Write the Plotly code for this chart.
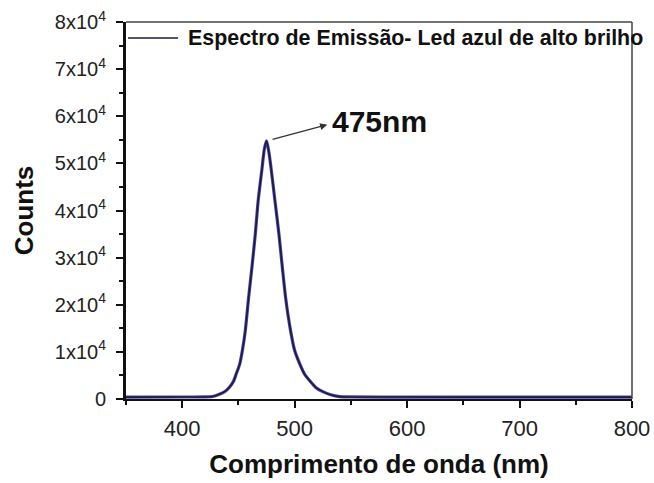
import plotly.graph_objects as go

# Emission spectrum of a high-brightness blue LED
wavelength_nm = [350, 400, 420, 427, 433, 438, 442, 445.5, 448, 451, 453.5, 456,
                 459, 462, 465, 467.5, 471, 473, 475, 477, 479, 482.5, 486, 489,
                 492, 496.5, 500, 505, 509, 514, 519, 525, 532, 540, 550, 600,
                 700, 800]
counts = [400, 420, 430, 520, 1000, 1600, 2500, 3700, 5300, 7300, 10300, 14300,
          21400, 28000, 35000, 42000, 49000, 53000, 54800, 52500, 49000, 42000,
          35000, 28000, 21400, 14300, 10300, 7200, 5200, 3700, 2400, 1560, 900,
          500, 430, 410, 400, 400]

x_ticks = [400, 500, 600, 700, 800]
y_ticks = [0, 10000, 20000, 30000, 40000, 50000, 60000, 70000, 80000]
y_tick_labels = ["0"] + [f"{k}x10<sup>4</sup>" for k in range(1, 9)]

peak_nm = 475
peak_label = "475nm"
legend_label = "Espectro de Emissão- Led azul de alto brilho"

FONT = "Liberation Sans, Arial, sans-serif"

fig = go.Figure()
# blue halo under the dark trace
fig.add_trace(go.Scatter(x=wavelength_nm, y=counts, mode="lines",
                         line=dict(color="#4a44b2", width=3.2, shape="spline", smoothing=0.6),
                         hoverinfo="skip", showlegend=False))
fig.add_trace(go.Scatter(x=wavelength_nm, y=counts, mode="lines", name=legend_label,
                         line=dict(color="#1c1c38", width=1.6, shape="spline", smoothing=0.6),
                         showlegend=False))

peak_counts = max(counts)

# arrow from the peak towards its label
fig.add_annotation(x=529, y=58200, ax=peak_nm + 4, ay=peak_counts + 200,
                   xref="x", yref="y", axref="x", ayref="y", text="",
                   showarrow=True, arrowhead=2, arrowsize=1.1, arrowwidth=1.3,
                   arrowcolor="#333333")
fig.add_annotation(x=531, y=58800, xref="x", yref="y", text=f"<b>{peak_label}</b>",
                   showarrow=False, xanchor="left", yanchor="middle",
                   font=dict(family=FONT, size=30, color="#111111"))

# legend entry drawn by hand: line sample + label
fig.add_shape(type="line", xref="paper", yref="paper", x0=0.004, x1=0.103,
              y0=0.9576, y1=0.9576, line=dict(color="#1c1c38", width=1.6))
fig.add_annotation(x=0.118, y=0.9576, xref="paper", yref="paper",
                   text=f"<b>{legend_label}</b>", showarrow=False,
                   xanchor="left", yanchor="middle",
                   font=dict(family=FONT, size=21.4, color="#111111"))

# thin top and right frame lines
fig.add_shape(type="line", xref="paper", yref="paper", x0=0, x1=1, y0=1, y1=1,
              line=dict(color="#444444", width=1.5))
fig.add_shape(type="line", xref="paper", yref="paper", x0=1, x1=1, y0=0, y1=1,
              line=dict(color="#444444", width=1.5))

fig.update_layout(
    width=654, height=483,
    margin=dict(l=126, r=22, t=22, b=84),
    paper_bgcolor="white", plot_bgcolor="white",
    font=dict(family=FONT, color="#111111"),
)
fig.update_xaxes(
    range=[350, 800], tickvals=x_ticks, ticktext=[str(v) for v in x_ticks],
    automargin=False, ticklabeloverflow="allow",
    showgrid=False, zeroline=False, showline=True, linecolor="#111111", linewidth=2,
    ticks="outside", ticklen=7, tickwidth=2, tickcolor="#111111",
    minor=dict(ticks="outside", ticklen=4, tickwidth=1.5, dtick=50, tick0=350, tickcolor="#111111"),
    tickfont=dict(size=22, family=FONT, color="#222222"), ticklabelstandoff=2,
    title=dict(text="<b>Comprimento de onda (nm)</b>", font=dict(size=26, family=FONT), standoff=14),
)
fig.update_yaxes(
    range=[0, 80000], tickvals=y_ticks, ticktext=y_tick_labels,
    automargin=False, ticklabeloverflow="allow",
    showgrid=False, zeroline=False, showline=True, linecolor="#111111", linewidth=3,
    ticks="outside", ticklen=7, tickwidth=2, tickcolor="#111111",
    minor=dict(ticks="outside", ticklen=4, tickwidth=1.5, dtick=5000, tick0=0, tickcolor="#111111"),
    tickfont=dict(size=20, family=FONT, color="#222222"), ticklabelstandoff=6,
    title=dict(text="<b>Counts</b>", font=dict(size=26, family=FONT), standoff=14),
)

fig.write_html("out.html")
